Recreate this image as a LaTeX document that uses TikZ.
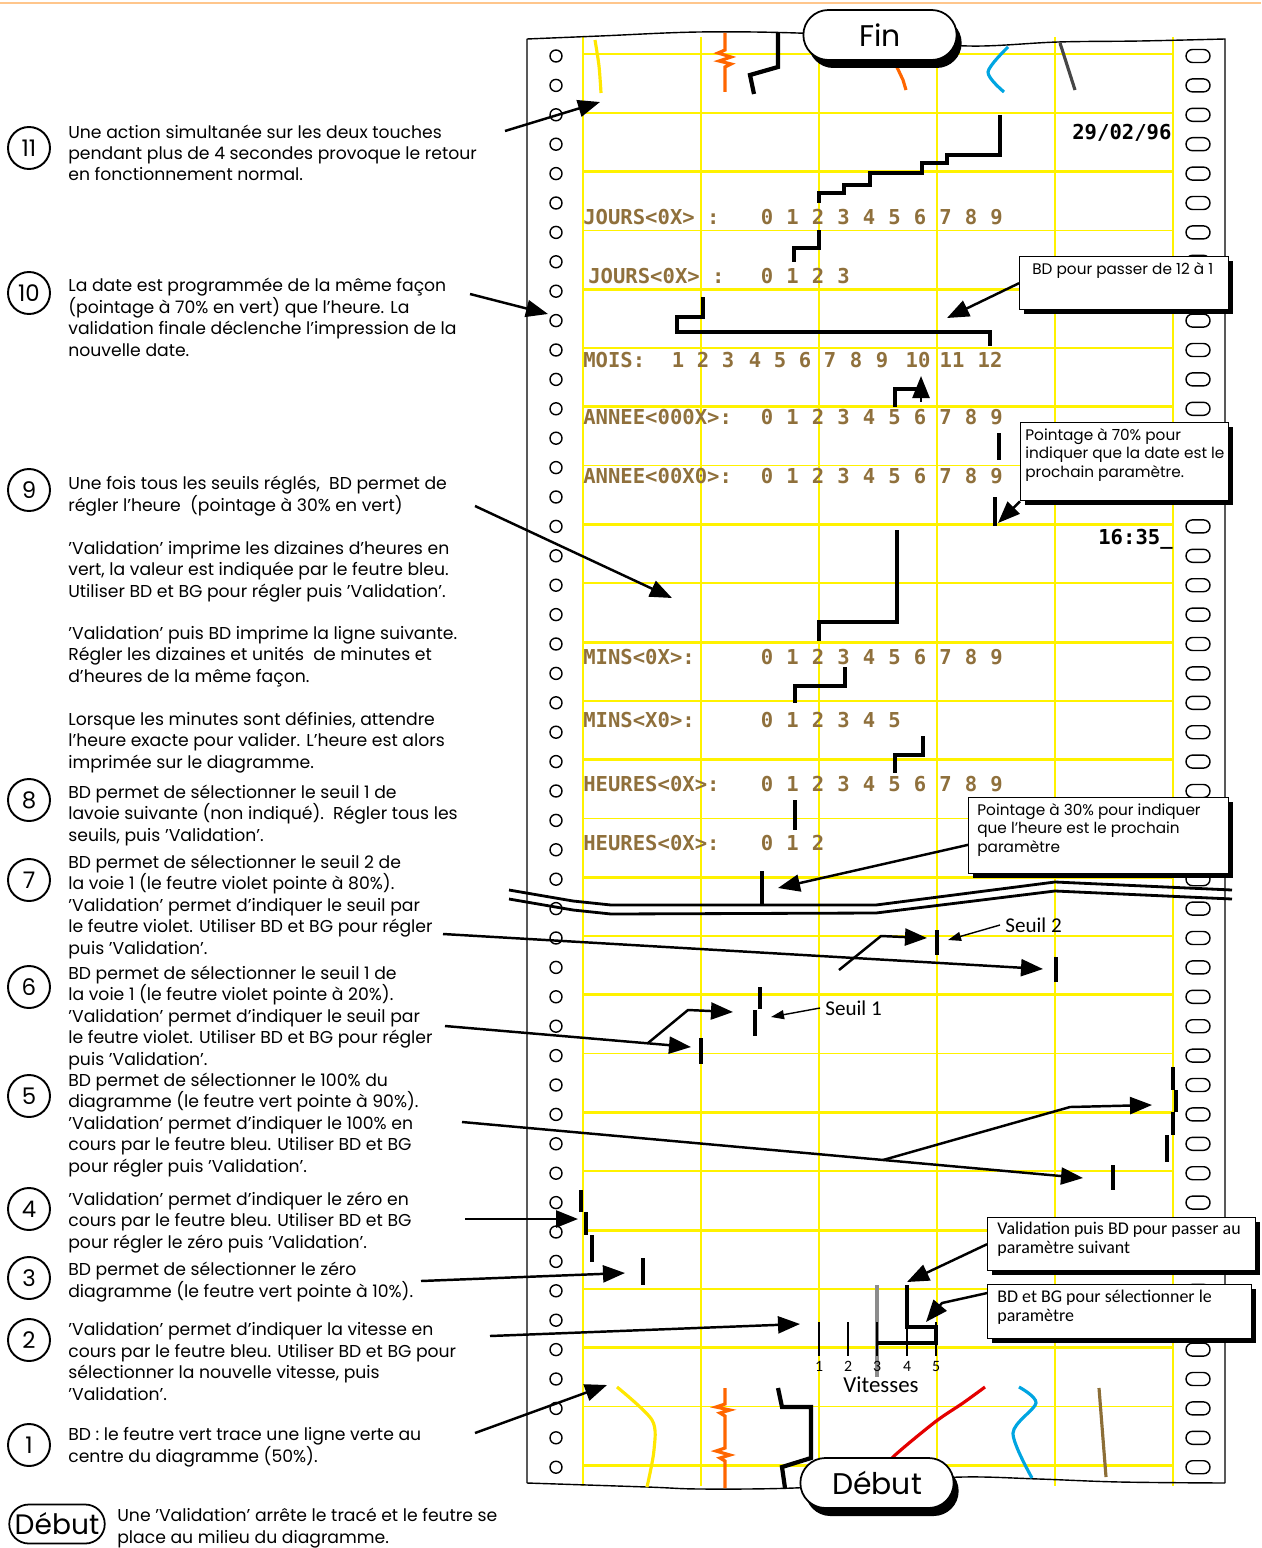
\documentclass[tikz,border=0pt]{standalone}
\usepackage{fontspec}
\setmainfont{Poppins}
\newfontfamily\matrice{DejaVu Sans Mono}
\newfontfamily\etroite{Carlito}
\usetikzlibrary{arrows.meta,shapes.misc,shadows}
\definecolor{papier}{RGB}{255,242,0}
\definecolor{encre}{RGB}{143,112,60}
\definecolor{orangef}{RGB}{255,102,0}
\definecolor{bleuf}{RGB}{0,165,225}
\definecolor{rougef}{RGB}{228,0,0}
\definecolor{brunf}{RGB}{140,110,55}
\definecolor{grisf}{RGB}{70,70,70}
\definecolor{grisv}{RGB}{140,140,140}
\tikzset{
  fleche/.style={line width=1.4pt,-{Triangle[length=4.4mm,width=3.4mm]}},
  petite/.style={line width=0.8pt,-{Triangle[length=2.6mm,width=1.8mm]}},
  trace/.style={line width=2.4pt},
  stylo/.style={line width=1.8pt},
  numero/.style={draw,circle,line width=1.1pt,minimum size=8.4mm,inner sep=0pt,font=\fontsize{13}{13}\selectfont},
  etape/.style={anchor=base west,align=left,inner sep=0pt,font=\fontsize{9.8}{12.2}\selectfont},
  ligne/.style={anchor=base west,inner sep=0pt,text=encre,font=\matrice\bfseries\fontsize{11.7}{12}\selectfont},
  chiffre/.style={anchor=base,inner sep=0pt,text=encre,font=\matrice\bfseries\fontsize{11.7}{12}\selectfont},
  bulle/.style={draw,fill=white,line width=0.8pt,anchor=north west,inner sep=0pt,drop shadow={shadow xshift=0.8mm,shadow yshift=-0.9mm,opacity=1,fill=black}},
  texbulle/.style={anchor=north west,align=left,inner sep=0pt,font=\fontsize{8.7}{10.5}\selectfont},
  texetroit/.style={anchor=north west,align=left,inner sep=0pt,font=\etroite\fontsize{10.2}{10.5}\selectfont},
  seuil/.style={anchor=west,inner sep=0pt,font=\etroite\fontsize{12}{12}\selectfont},
  bouton/.style={draw,fill=white,rounded rectangle,line width=1pt,minimum width=33mm,minimum height=10mm,font=\fontsize{17}{17}\selectfont,drop shadow={shadow xshift=1mm,shadow yshift=-1.6mm,opacity=1,fill=black}},
}

\begin{document}
\begin{tikzpicture}[x=0.2mm,y=-0.2mm]
\useasboundingbox (0,0) rectangle (1261,1548);
\draw[orange!45,line width=0.6pt] (0,3) -- (1261,3);
\foreach \x in {583,701,...,1173} \draw[papier,line width=1.6pt] (\x,37) -- (\x,1486);
\foreach \k in {0,2,...,24} \draw[papier,line width=1.7pt] (583,{54+58.8*\k}) -- (1173,{54+58.8*\k});
\foreach \k in {1,3,...,23} \draw[papier,line width=0.9pt] (583,{54+58.8*\k}) -- (1173,{54+58.8*\k});
\foreach \k in {0,...,48} {
  \draw[line width=0.8pt] (556,{56+29.4*\k}) circle (1.2mm);
  \draw[line width=0.8pt,rounded corners=1.3mm] (1186,{49.5+29.4*\k}) rectangle (1210,{62.5+29.4*\k});
}
\draw[line width=0.8pt] (527,1483) -- (527,39) plot[smooth,tension=0.6] coordinates {(527,39) (600,36) (699,32) (797,33) (880,38) (968,46) (1058,42) (1140,41) (1225,39)} -- (1225,1483);
\draw[line width=0.8pt] plot[smooth,tension=0.6] coordinates {(527,1483) (647,1487) (701,1489) (794,1488) (880,1482) (963,1477) (1039,1479) (1120,1482) (1225,1483)};
\draw[line width=1.6pt] (509,890) -- (573,901) -- (611,905) -- (876,905) -- (1055,882) -- (1232,890);
\draw[line width=1.6pt] (509,899) -- (573,910) -- (611,914) -- (876,913) -- (1055,891) -- (1232,899);

\node[ligne,text=black] (date) at (1072,140) {29/02/96};
\node[ligne,text=black] (heure) at (1098,544) {16:35\_};
\node[ligne] (ja) at (583,224) {JOURS<0X> :};
\foreach \d in {0,...,9} \node[chiffre] (ja\d) at ({767+25.5*\d},224) {\d};
\node[ligne] (jb) at (588,283) {JOURS<0X> :};
\foreach \d in {0,...,3} \node[chiffre] (jb\d) at ({767+25.5*\d},283) {\d};
\node[ligne] (mois) at (583,367) {MOIS:};
\foreach \d/\x in {1/678,2/703,3/728,4/755,5/780,6/805,7/830,8/856,9/882,10/918,11/952,12/990} \node[chiffre] (mo\d) at (\x,367) {\d};
\node[ligne] (aa) at (583,424) {ANNEE<000X>:};
\foreach \d in {0,...,9} \node[chiffre] (aa\d) at ({767+25.5*\d},424) {\d};
\node[ligne] (ab) at (583,483) {ANNEE<00X0>:};
\foreach \d in {0,...,9} \node[chiffre] (ab\d) at ({767+25.5*\d},483) {\d};
\node[ligne] (ma) at (583,664) {MINS<0X>:};
\foreach \d in {0,...,9} \node[chiffre] (ma\d) at ({767+25.5*\d},664) {\d};
\node[ligne] (mb) at (583,727) {MINS<X0>:};
\foreach \d in {0,...,5} \node[chiffre] (mb\d) at ({767+25.5*\d},727) {\d};
\node[ligne] (ha) at (583,791) {HEURES<0X>:};
\foreach \d in {0,...,9} \node[chiffre] (ha\d) at ({767+25.5*\d},791) {\d};
\node[ligne] (hb) at (583,850) {HEURES<0X>:};
\foreach \d in {0,...,2} \node[chiffre] (hb\d) at ({767+25.5*\d},850) {\d};

\draw[stylo,papier!90!orange] plot[smooth] coordinates {(595,40) (599,66) (601,93)};
\draw[stylo,orangef] (725,33) -- (725,50) -- (718,53) -- (731,57) -- (719,61) -- (731,64) -- (725,67) -- (725,92);
\draw[trace] (778,33) -- (778,67) -- (750,75) -- (754,94);
\draw[stylo,orangef] (895,63) -- (903,80) -- (906,90);
\draw[stylo,bleuf] plot[smooth] coordinates {(1008,47) (988,72) (1004,92)};
\draw[stylo,grisf] (1060,43) -- (1075,90);
\draw[stylo,papier!90!orange] plot[smooth] coordinates {(617,1387) (652,1420) (654,1450) (647,1487)};
\draw[stylo,orangef] (725,1388) -- (725,1404) -- (716,1407) -- (730,1410) -- (720,1413) -- (725,1416) -- (725,1448) -- (716,1451) -- (730,1455) -- (720,1458) -- (725,1461) -- (725,1488);
\draw[trace] (778,1388) -- (782,1407) -- (811,1407) -- (811,1458) -- (782,1467) -- (785,1488);
\draw[stylo,rougef] plot[smooth] coordinates {(985,1387) (963,1403) (935,1422) (893,1457) (880,1475)};
\draw[stylo,bleuf] plot[smooth] coordinates {(1019,1387) (1036,1403) (1013,1433) (1032,1478)};
\draw[stylo,brunf] (1099,1388) -- (1106,1477);

\draw[trace] (1000,115) -- (1000,155) -- (947,155) -- (947,163) -- (922,163) -- (922,173) -- (870,173) -- (870,185) -- (844,185) -- (844,193) -- (819,193) -- (819,203);
\draw[trace] (819,230) -- (819,248) -- (794,248) -- (794,262);
\draw[trace] (703,297) -- (703,317) -- (677,317) -- (677,332) -- (990,332) -- (990,346);
\draw[trace] (895,407) -- (895,389) -- (921,389);
\draw[fleche] (921,402) -- (921,376);
\draw[trace] (999,433) -- (999,460);
\draw[trace] (995,497) -- (995,526);
\draw[trace] (897,530) -- (897,622) -- (819,622) -- (819,641);
\draw[trace] (845,667) -- (845,686) -- (795,686) -- (795,703);
\draw[trace] (923,736) -- (923,755) -- (895,755) -- (895,773);
\draw[trace] (795,800) -- (795,830);
\draw[trace] (762,871) -- (762,904);
\draw[trace] (1056,957) -- (1056,982);
\draw[trace] (937,930) -- (937,955);
\draw[trace] (760,987) -- (760,1009);
\draw[trace] (755,1010) -- (755,1036);
\draw[trace] (701,1038) -- (701,1064);
\draw[trace] (1113,1165) -- (1113,1190);
\draw[trace] (1173,1067) -- (1173,1090);
\draw[trace] (1176,1090) -- (1176,1112);
\draw[trace] (1173,1112) -- (1173,1135);
\draw[trace] (1167,1135) -- (1167,1162);
\draw[trace] (581,1190) -- (581,1212);
\draw[trace] (586,1212) -- (586,1235);
\draw[trace] (592,1235) -- (592,1262);
\draw[trace] (643,1258) -- (643,1285);

\draw[grisv,line width=2.4pt] (877,1285) -- (877,1377);
\foreach \v/\x in {1/819,2/848,3/877,4/907,5/936} {
  \draw[line width=0.6pt] (\x,1322) -- (\x,1356);
  \node[font=\etroite\fontsize{9}{9}\selectfont,inner sep=0pt] (v\v) at (\x,1366) {\v};
}
\draw[trace] (907,1285) -- (907,1327) -- (936,1327) -- (936,1343) -- (877,1343);
\node[font=\etroite\fontsize{13}{13}\selectfont,inner sep=0pt] (vitesses) at (881,1385) {Vitesses};

\node[bouton] (fin) at (880,35) {Fin};
\node[bouton] (debut) at (877,1483) {Début};

\node[seuil] (seuil2) at (1005,925) {Seuil 2};
\coordinate (m2) at (948,940);
\draw[petite] ([xshift=-1mm]seuil2.west) -- (m2);
\node[seuil] (seuil1) at (825,1008) {Seuil 1};
\coordinate (m1) at (771,1017);
\draw[petite] ([xshift=-1mm]seuil1.west) -- (m1);

\node[bulle,minimum width=41.8mm,minimum height=10.6mm] (b12) at (1019,256) {};
\node[texbulle] (tb12) at (1032,262) {BD pour passer de 12 à 1};
\coordinate (p12) at (947,318);
\draw[fleche] (b12.west) -- (p12);
\node[bulle,minimum width=41.6mm,minimum height=15.6mm] (b70) at (1020,422) {};
\node[texbulle] (tb70) at (1025,428) {Pointage à 70\% pour\\indiquer que la date est le\\prochain paramètre.};
\coordinate (p70) at (998,523);
\draw[fleche] (b70.south west) -- (p70);
\node[bulle,minimum width=52mm,minimum height=15.2mm] (b30) at (968,797) {};
\node[texbulle] (tb30) at (977,803) {Pointage à 30\% pour indiquer\\que l'heure est le prochain\\paramètre};
\coordinate (p30) at (778,888);
\draw[fleche] (b30.184) -- (p30);
\node[bulle,minimum width=53.6mm,minimum height=10.6mm] (bval) at (987,1217) {};
\node[texetroit] (tbval) at (997,1222) {Validation puis BD pour passer au\\paramètre suivant};
\coordinate (pval) at (907,1282);
\draw[fleche] (bval.west) -- (pval);
\node[bulle,minimum width=52.8mm,minimum height=10.8mm] (bsel) at (987,1284) {};
\node[texetroit] (tbsel) at (997,1290) {BD et BG pour sélectionner le\\paramètre};
\coordinate (qsel) at (942,1303);
\coordinate (psel) at (926,1322);
\draw[fleche] (bsel.172) -- (qsel) -- (psel);

\node[numero] (c11) at (29,148) {11};
\node[etape] (t11) at (68,181) {Une action simultanée sur les deux touches\\pendant plus de 4 secondes provoque le retour\\en fonctionnement normal.};
\node[numero] (c10) at (29,293) {10};
\node[etape] (t10) at (68,356) {La date est programmée de la même façon\\(pointage à 70\% en vert) que l'heure. La\\validation finale déclenche l'impression de la\\nouvelle date.};
\node[numero] (c9) at (29,490) {9};
\node[etape] (t9a) at (68,511) {Une fois tous les seuils réglés,\ \ BD permet de\\régler l'heure\ \ (pointage à 30\% en vert)};
\node[etape] (t9b) at (68,597) {'Validation' imprime les dizaines d'heures en\\vert, la valeur est indiquée par le feutre bleu.\\Utiliser BD et BG pour régler puis 'Validation'.};
\node[etape] (t9c) at (68,682) {'Validation' puis BD imprime la ligne suivante.\\Régler les dizaines et unités\ \ de minutes et\\d'heures de la même façon.};
\node[etape] (t9d) at (68,768) {Lorsque les minutes sont définies, attendre\\l'heure exacte pour valider. L'heure est alors\\imprimée sur le diagramme.};
\node[numero] (c8) at (29,800) {8};
\node[etape] (t8) at (68,841) {BD permet de sélectionner le seuil 1 de\\lavoie suivante (non indiqué).\ \ Régler tous les\\seuils, puis 'Validation'.};
\node[numero] (c7) at (29,880) {7};
\node[etape] (t7) at (68,954) {BD permet de sélectionner le seuil 2 de\\la voie 1 (le feutre violet pointe à 80\%).\\'Validation' permet d'indiquer le seuil par\\le feutre violet. Utiliser BD et BG pour régler\\puis 'Validation'.};
\node[numero] (c6) at (29,987) {6};
\node[etape] (t6) at (68,1065) {BD permet de sélectionner le seuil 1 de\\la voie 1 (le feutre violet pointe à 20\%).\\'Validation' permet d'indiquer le seuil par\\le feutre violet. Utiliser BD et BG pour régler\\puis 'Validation'.};
\node[numero] (c5) at (29,1096) {5};
\node[etape] (t5) at (68,1172) {BD permet de sélectionner le 100\% du\\diagramme (le feutre vert pointe à 90\%).\\'Validation' permet d'indiquer le 100\% en\\cours par le feutre bleu. Utiliser BD et BG\\pour régler puis 'Validation'.};
\node[numero] (c4) at (29,1209) {4};
\node[etape] (t4) at (68,1248) {'Validation' permet d'indiquer le zéro en\\cours par le feutre bleu. Utiliser BD et BG\\pour régler le zéro puis 'Validation'.};
\node[numero] (c3) at (29,1278) {3};
\node[etape] (t3) at (68,1297) {BD permet de sélectionner le zéro\\diagramme (le feutre vert pointe à 10\%).};
\node[numero] (c2) at (29,1340) {2};
\node[etape] (t2) at (68,1400) {'Validation' permet d'indiquer la vitesse en\\cours par le feutre bleu. Utiliser BD et BG pour\\sélectionner la nouvelle vitesse, puis\\'Validation'.};
\node[numero] (c1) at (29,1445) {1};
\node[etape] (t1) at (68,1462) {BD : le feutre vert trace une ligne verte au\\centre du diagramme (50\%).};
\node[draw,rounded rectangle,line width=1pt,minimum width=19.8mm,minimum height=7.8mm,inner sep=1pt,font=\fontsize{16}{16}\selectfont] (d0) at (57,1524) {Début};
\node[etape] (t0) at (117,1543) {Une 'Validation' arrête le tracé et le feutre se\\place au milieu du diagramme.};

\coordinate (a11) at (505,131); \coordinate (b11) at (600,102);
\draw[fleche] (a11) -- (b11);
\coordinate (a10) at (470,294); \coordinate (b10) at (548,314);
\draw[fleche] (a10) -- (b10);
\coordinate (a9) at (475,506); \coordinate (b9) at (672,598);
\draw[fleche] (a9) -- (b9);
\coordinate (a7) at (443,934); \coordinate (b7) at (1043,969);
\draw[fleche] (a7) -- (b7);
\coordinate (r7) at (839,970); \coordinate (s7) at (881,936); \coordinate (e7) at (927,938);
\draw[fleche] (r7) -- (s7) -- (e7);
\coordinate (a6) at (445,1026); \coordinate (b6) at (691,1047);
\draw[fleche] (a6) -- (b6);
\coordinate (r6) at (648,1043); \coordinate (s6) at (688,1010); \coordinate (e6) at (733,1012);
\draw[fleche] (r6) -- (s6) -- (e6);
\coordinate (a5) at (462,1122); \coordinate (b5) at (1083,1178);
\draw[fleche] (a5) -- (b5);
\coordinate (r5) at (883,1160); \coordinate (s5) at (1070,1107); \coordinate (e5) at (1152,1105);
\draw[fleche] (r5) -- (s5) -- (e5);
\coordinate (a4) at (465,1219); \coordinate (b4) at (578,1219);
\draw[fleche] (a4) -- (b4);
\coordinate (a3) at (421,1281); \coordinate (b3) at (625,1273);
\draw[fleche] (a3) -- (b3);
\coordinate (a2) at (490,1336); \coordinate (b2) at (800,1324);
\draw[fleche] (a2) -- (b2);
\coordinate (a1) at (475,1433); \coordinate (b1) at (607,1385);
\draw[fleche] (a1) -- (b1);
\end{tikzpicture}
\end{document}
